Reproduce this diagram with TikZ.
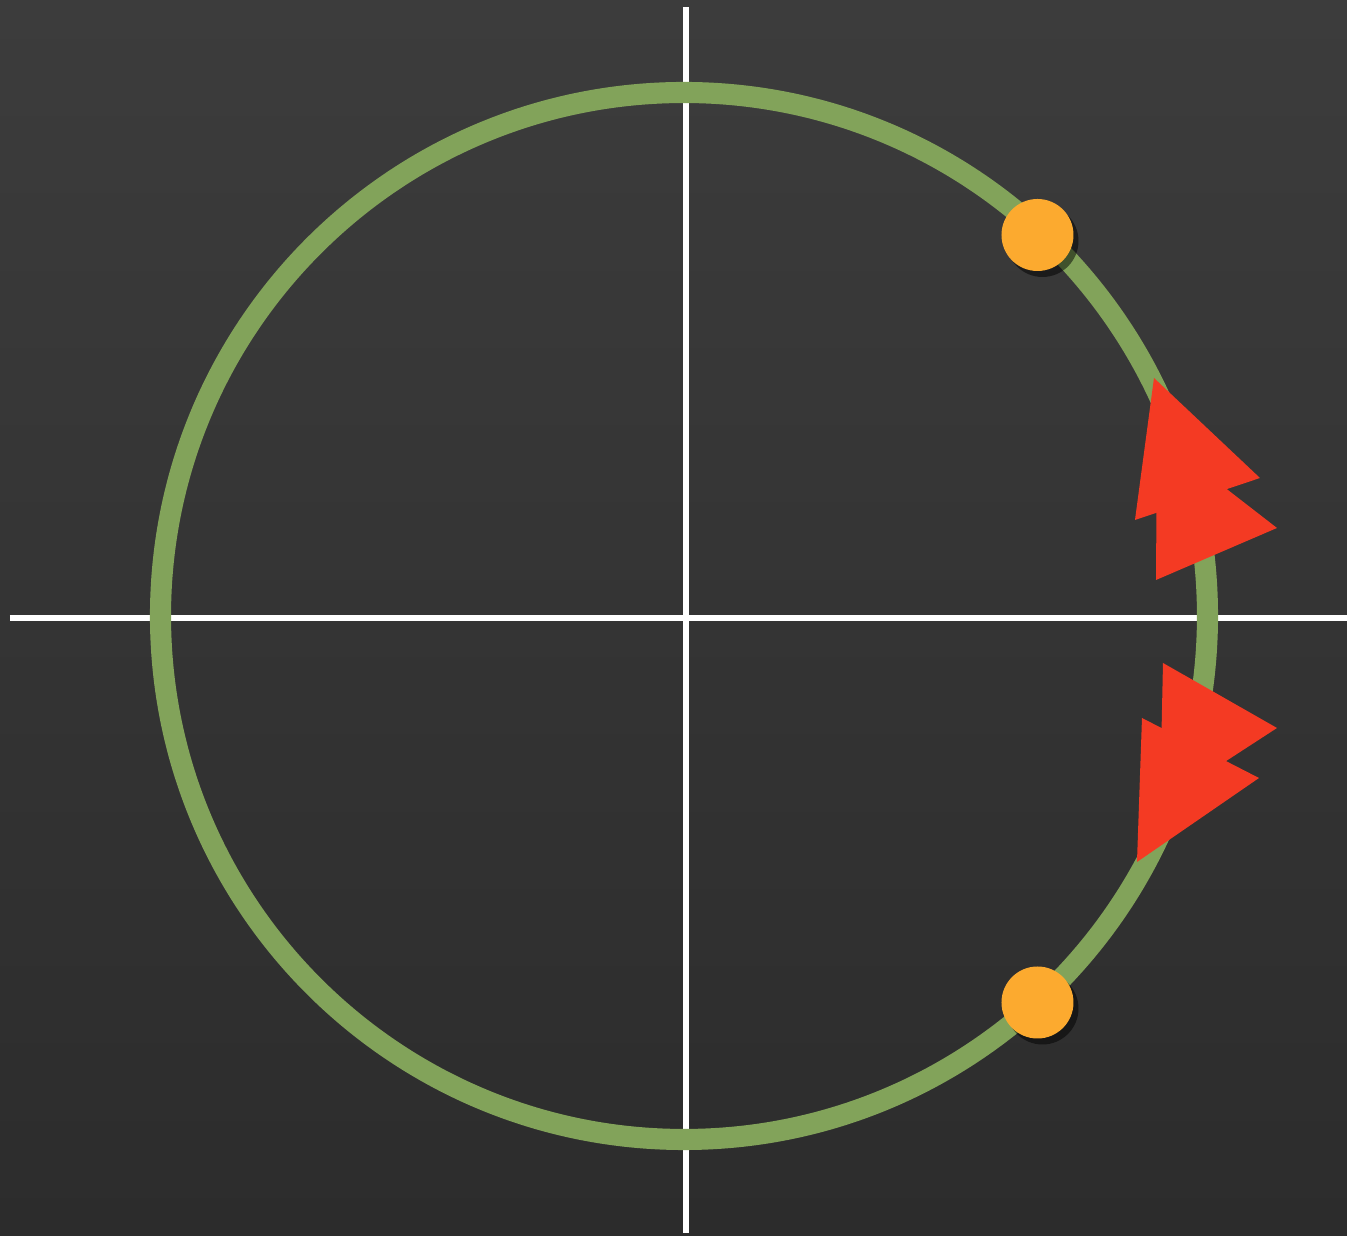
\documentclass[tikz,border=0pt]{standalone}
\usepackage{xcolor}
\usepackage{tikz}
\usetikzlibrary{shadows}
\definecolor{boardtop}{RGB}{60,60,60}
\definecolor{boardbottom}{RGB}{44,44,44}
\definecolor{leafgreen}{RGB}{130,163,90}
\definecolor{amber}{RGB}{252,170,47}
\definecolor{signalred}{RGB}{244,58,35}

\begin{document}
\begin{tikzpicture}[
  axis/.style={draw=white, line width=1.7pt},
  orbit/.style={draw=leafgreen, line width=6pt},
  dotnode/.style={circle, fill=amber, minimum size=0.72cm, inner sep=0pt,
    drop shadow={shadow xshift=0.05cm, shadow yshift=-0.06cm, opacity=0.5, fill=black}},
  redhead/.style={fill=signalred}
]
% board
\shade[top color=boardtop, bottom color=boardbottom] (-6.84,-6.20) rectangle (6.63,6.16);
\useasboundingbox (-6.84,-6.20) rectangle (6.63,6.16);

% axes
\coordinate (west) at (-6.74,-0.02);
\coordinate (east) at (6.63,-0.02);
\coordinate (north) at (0.02,6.09);
\coordinate (south) at (0.02,-6.17);
\draw[axis] (west) -- (east);
\draw[axis] (south) -- (north);

% circle
\coordinate (centre) at (0,0);
\draw[orbit] (centre) circle[radius=5.235];

% direction marks
\fill[redhead] (4.73,1.81) -- (5.93,0.88) -- (4.72,0.36) -- cycle;
\fill[redhead] (4.70,2.38) -- (5.76,1.38) -- (4.51,0.96) -- cycle;
\fill[redhead] (4.79,-0.47) -- (5.93,-1.12) -- (4.76,-1.88) -- cycle;
\fill[redhead] (4.58,-1.02) -- (5.75,-1.62) -- (4.53,-2.46) -- cycle;

% points
\node[dotnode] (upper) at (3.535,3.81) {};
\node[dotnode] (lower) at (3.535,-3.865) {};
\end{tikzpicture}
\end{document}
